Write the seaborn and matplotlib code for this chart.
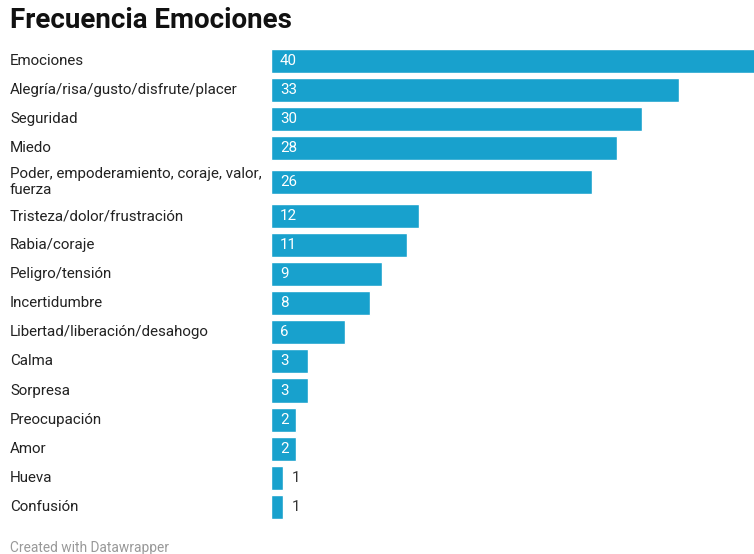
import numpy as np
import pandas as pd
import seaborn as sns
import matplotlib.pyplot as plt
from matplotlib.transforms import blended_transform_factory

# === Data
categorias = [
    "Emociones",
    "Alegría/risa/gusto/disfrute/placer",
    "Seguridad",
    "Miedo",
    "Poder, empoderamiento, coraje, valor,\nfuerza",
    "Tristeza/dolor/frustración",
    "Rabia/coraje",
    "Peligro/tensión",
    "Incertidumbre",
    "Libertad/liberación/desahogo",
    "Calma",
    "Sorpresa",
    "Preocupación",
    "Amor",
    "Hueva",
    "Confusión",
]
frecuencias = [40, 33, 30, 28, 26, 12, 11, 9, 8, 6, 3, 3, 2, 2, 1, 1]

# === Row positions: wrapped labels get a bit more room
extra = np.array([0.17 * (c.count("\n")) for c in categorias])
steps = np.ones(len(categorias))
steps[0] = 0
steps = steps + extra + np.roll(extra, 1) * (np.arange(len(categorias)) > 0)
pos = np.cumsum(steps)

df = pd.DataFrame({"categoria": categorias, "frecuencia": frecuencias, "pos": pos})

# === Style
sns.set_style("white")
plt.rcParams['font.family'] = ['Roboto', 'DejaVu Sans']

fig = plt.figure(figsize=(7.54, 5.54), dpi=100)
ax = fig.add_axes([0.3594, 0.0590, 0.6406, 0.8574])

sns.barplot(data=df, x="frecuencia", y="pos", orient="h", native_scale=True,
            color="#18a1cd", saturation=1, width=0.83, ax=ax)

# the longest bar runs past the right edge in the original
xmax = 39.08
ax.set_xlim(0, xmax)
ax.set_ylim(pos[-1] + 0.5, -0.5)
ax.set_xlabel("")
ax.set_ylabel("")
ax.set_xticks([])
ax.set_yticks([])
sns.despine(ax=ax, left=True, bottom=True)

# === Category labels on the left
trans = blended_transform_factory(fig.transFigure, ax.transData)
for p, cat in zip(pos, categorias):
    ax.text(10 / 754, p, cat, transform=trans, ha="left", va="center",
            fontsize=10.9, color="#222222", linespacing=1.15)

# === Value labels
px = xmax / 483  # data units per pixel
for p, val in zip(pos, frecuencias):
    if val >= 2:
        ax.text(9 * px, p, str(val), ha="left", va="center",
                fontsize=10.9, color="white")
    else:
        ax.text(val + 8 * px, p, str(val), ha="left", va="center",
                fontsize=10.9, color="#333333")

# === Title and footer
fig.text(10 / 754, 1 - 21 / 554, "Frecuencia Emociones", ha="left", va="center",
         fontsize=20, fontweight="bold", color="#111111")
fig.text(10 / 754, 6 / 554, "Created with Datawrapper", ha="left", va="center",
         fontsize=9.9, color="#999999")

plt.savefig("out.png", dpi=100)
